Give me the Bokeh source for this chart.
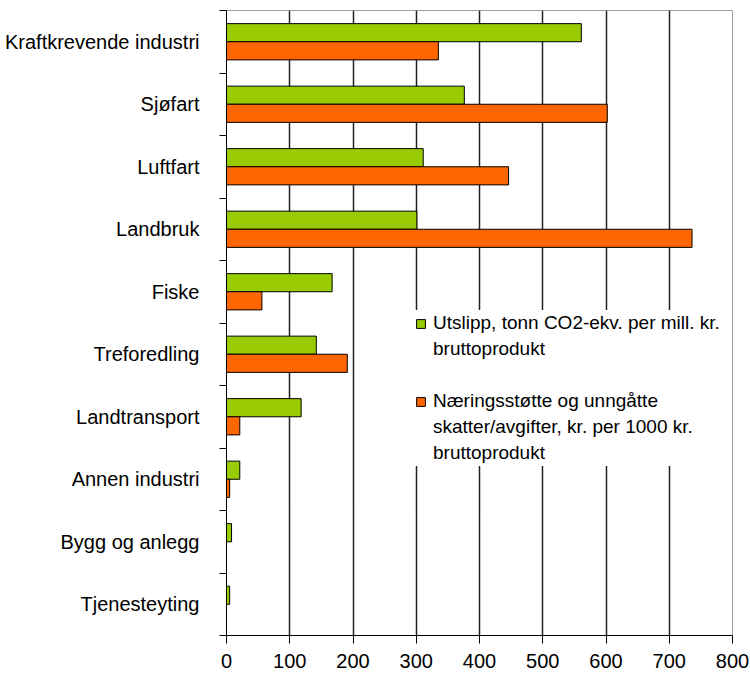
from bokeh.plotting import figure
from bokeh.models import ColumnDataSource, FixedTicker, Legend, LegendItem, Range1d
from bokeh.transform import dodge
from bokeh.embed import file_html
from bokeh.resources import INLINE

categories = ["Kraftkrevende industri", "Sjøfart", "Luftfart", "Landbruk", "Fiske",
              "Treforedling", "Landtransport", "Annen industri", "Bygg og anlegg", "Tjenesteyting"]
utslipp = [561, 376, 311, 301, 167, 142, 118, 21, 8, 5]
stotte = [335, 602, 446, 736, 56, 191, 21, 5, 0, 0]
x_ticks = [0, 100, 200, 300, 400, 500, 600, 700, 800]
label_utslipp = ["Utslipp, tonn CO2-ekv. per mill. kr.", "bruttoprodukt"]
label_stotte = ["Næringsstøtte og unngåtte", "skatter/avgifter, kr. per 1000 kr.", "bruttoprodukt"]

n = len(categories)
pos = [n - 1 - i + 0.5 for i in range(n)]
src = ColumnDataSource(dict(pos=pos, cat=categories, utslipp=utslipp, stotte=stotte))

FONT = "Liberation Sans"

p = figure(width=750, height=677, output_backend="svg", toolbar_location=None,
           x_range=Range1d(0, 800), y_range=Range1d(0, n),
           min_border_left=226, min_border_right=18, min_border_top=10, min_border_bottom=42)

r1 = p.hbar(y=dodge("pos", 0.145), right="utslipp", left=0, height=0.29, source=src,
            fill_color="#99CC00", line_color="#000000", line_width=1)
r2 = p.hbar(y=dodge("pos", -0.145), right="stotte", left=0, height=0.29, source=src,
            fill_color="#FF6600", line_color="#000000", line_width=1)
# invisible renderer used only for continuation lines of the legend
blank = p.hbar(y=[], right=[], left=0, height=0.29, fill_alpha=0, line_alpha=0)

# x axis
p.xaxis.ticker = FixedTicker(ticks=x_ticks)
p.xaxis.axis_line_color = "#000000"
p.xaxis.major_tick_line_color = "#000000"
p.xaxis.major_tick_out = 8
p.xaxis.major_tick_in = 0
p.xaxis.minor_tick_line_color = None
p.xaxis.major_label_standoff = 10
p.xaxis.major_label_text_font = FONT
p.xaxis.major_label_text_font_size = "20px"
p.xaxis.major_label_text_color = "#000000"

# y axis: labels at centres, ticks at category boundaries
p.yaxis.ticker = FixedTicker(ticks=pos, minor_ticks=list(range(0, n + 1)))
p.yaxis.major_label_overrides = {float(v): c for v, c in zip(pos, categories)}
p.yaxis.major_tick_out = 0
p.yaxis.major_tick_in = 0
p.yaxis.minor_tick_out = 7
p.yaxis.minor_tick_in = 0
p.yaxis.minor_tick_line_color = "#000000"
p.yaxis.axis_line_color = "#000000"
p.yaxis.major_label_standoff = 20
p.yaxis.major_label_text_font = FONT
p.yaxis.major_label_text_font_size = "20px"
p.yaxis.major_label_text_color = "#000000"

# grid
p.ygrid.grid_line_color = None
p.xgrid.ticker = FixedTicker(ticks=x_ticks[1:-1])
p.xgrid.grid_line_color = "#222222"
p.xgrid.grid_line_width = 1.5

p.outline_line_color = "#a0a0a0"
p.background_fill_color = "#ffffff"
p.border_fill_color = "#ffffff"

items = [LegendItem(label=label_utslipp[0], renderers=[r1])]
items += [LegendItem(label=t, renderers=[blank]) for t in label_utslipp[1:]]
items += [LegendItem(label=" ", renderers=[blank])]
items += [LegendItem(label=label_stotte[0], renderers=[r2])]
items += [LegendItem(label=t, renderers=[blank]) for t in label_stotte[1:]]

legend = Legend(items=items, location=(189, 169), orientation="vertical")
legend.label_text_font = FONT
legend.label_text_font_size = "19px"
legend.label_text_color = "#000000"
legend.label_height = 26
legend.glyph_width = 11
legend.glyph_height = 11
legend.label_standoff = 7
legend.padding = 6
legend.spacing = 0
legend.margin = 0
legend.border_line_color = None
legend.background_fill_color = "#ffffff"
legend.background_fill_alpha = 1.0
p.add_layout(legend, "center")

open("out.html", "w").write(file_html(p, INLINE))
